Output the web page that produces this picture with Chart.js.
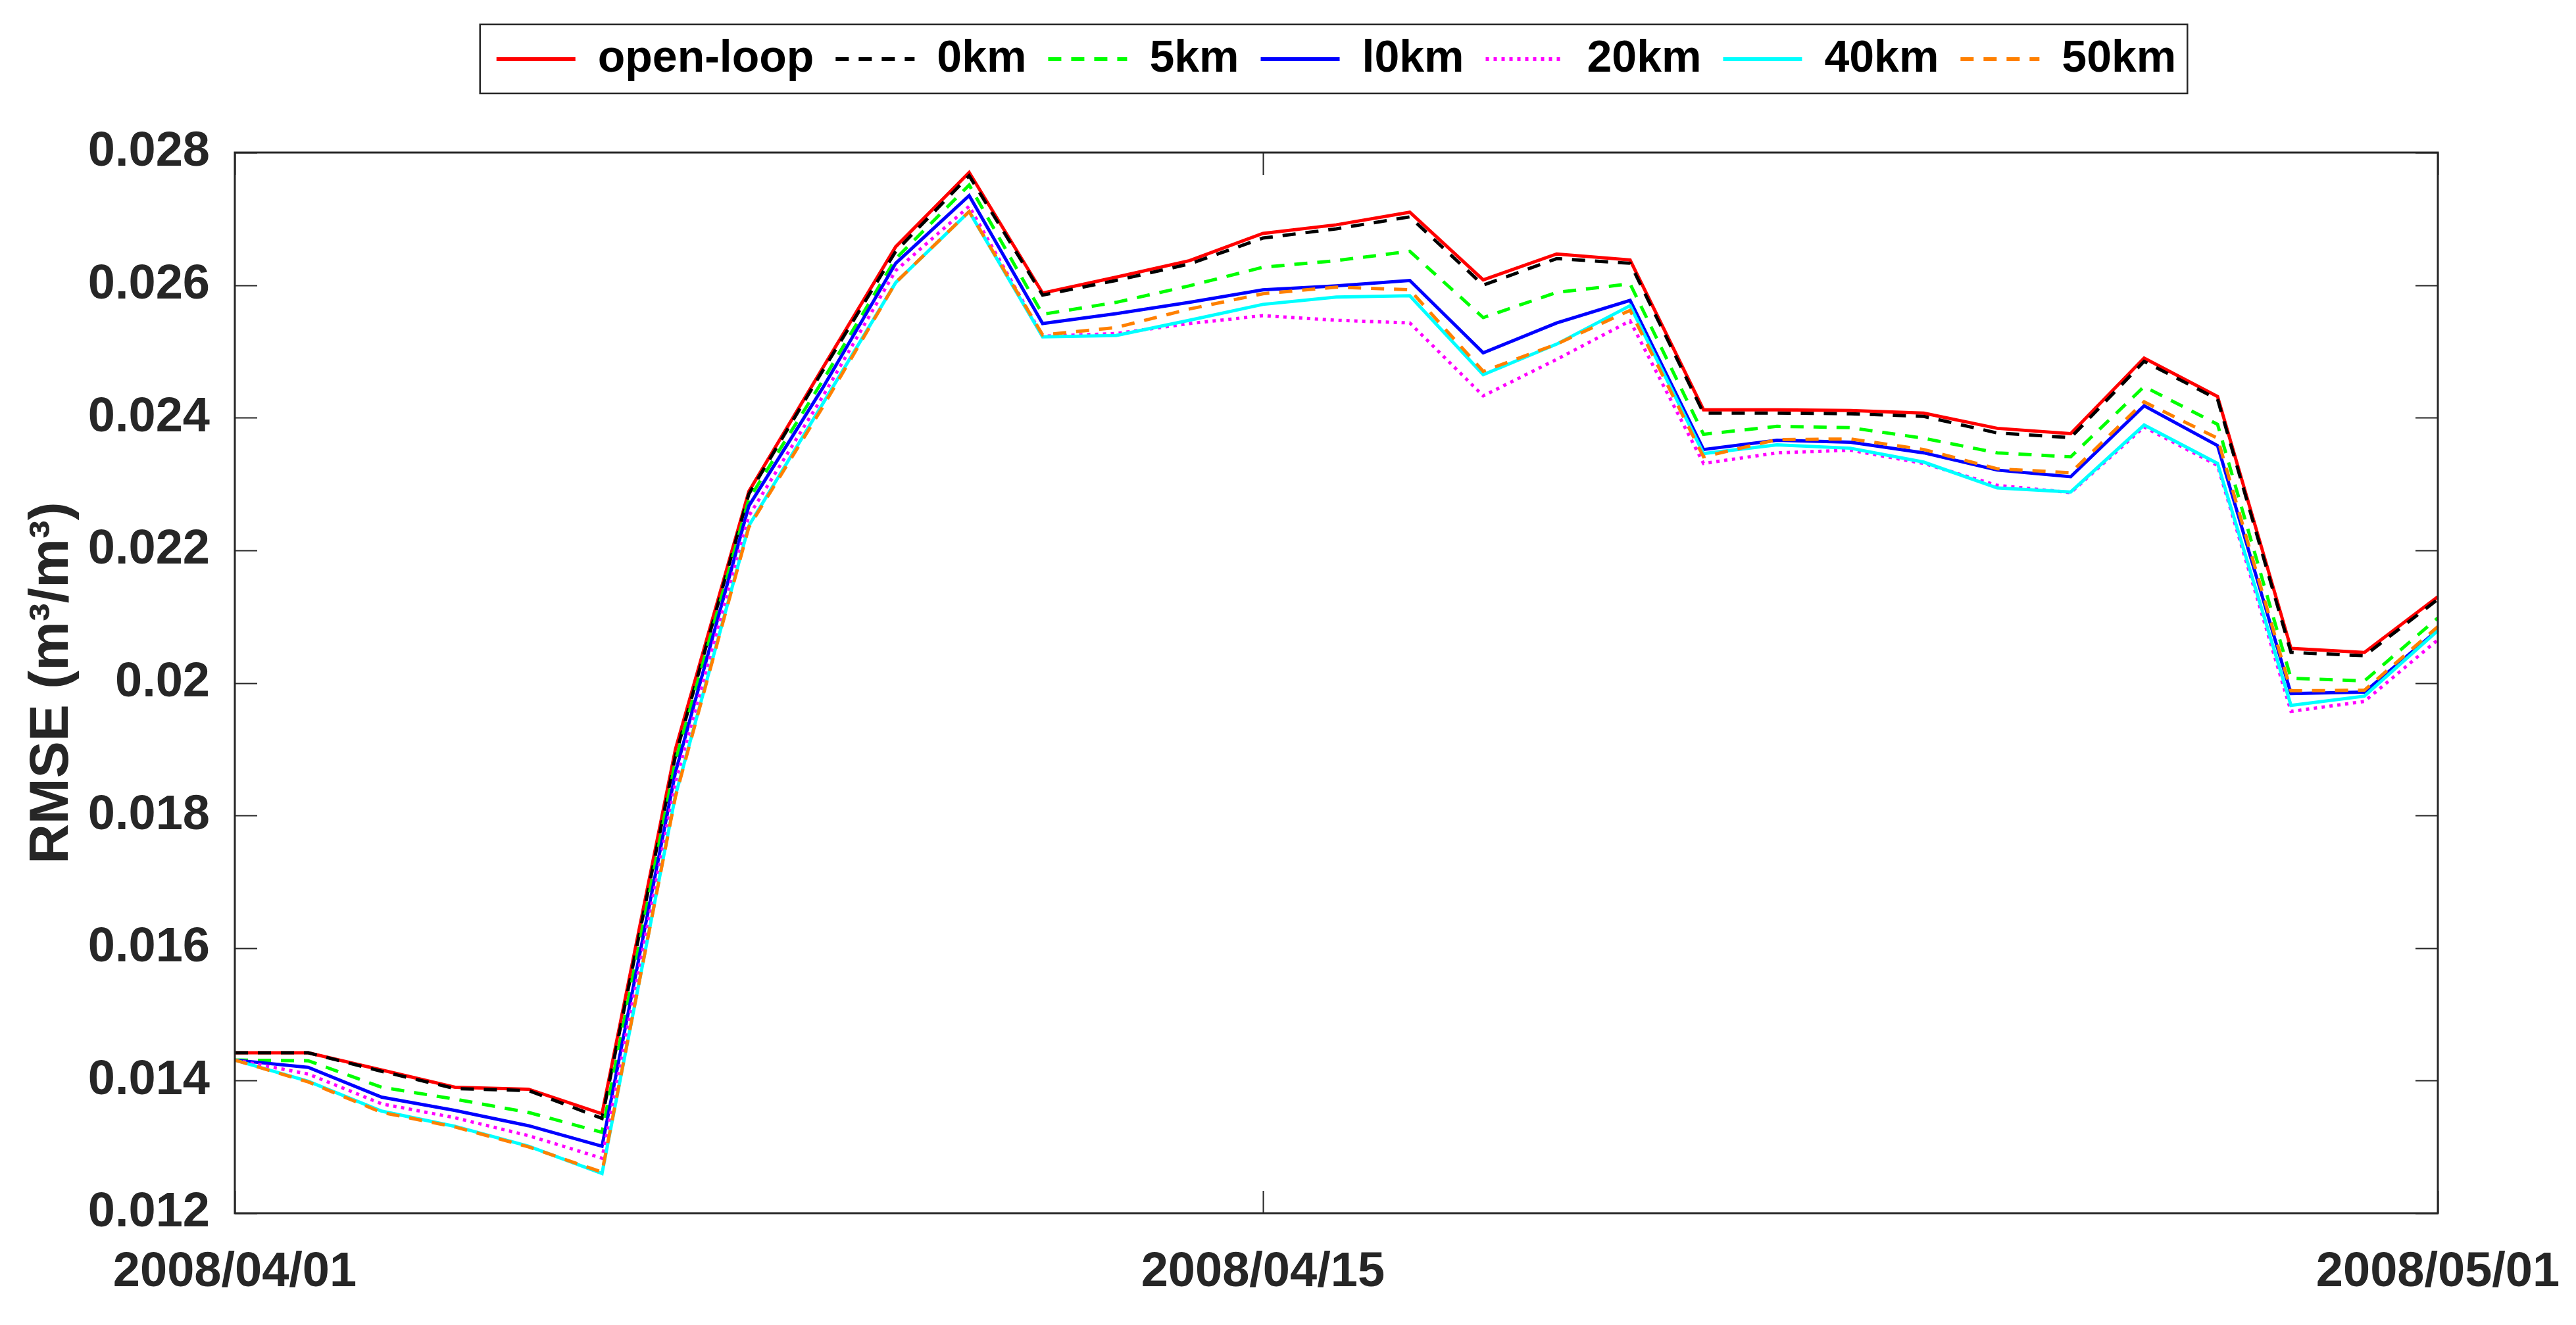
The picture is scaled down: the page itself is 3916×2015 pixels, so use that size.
<!DOCTYPE html>
<html>
<head>
<meta charset="utf-8">
<title>RMSE open-loop vs radius</title>
<script src="https://cdn.jsdelivr.net/npm/chart.js@4.4.0/dist/chart.umd.min.js"></script>
<style>
  html, body { margin: 0; padding: 0; background: #fff; }
  #wrap { width: 3916px; height: 2015px; }
</style>
</head>
<body>
<div id="wrap"><canvas id="rmseChart" width="3916" height="2015"></canvas></div>
<script>
// one value per day, 2008/04/01 .. 2008/05/01
const days = [
  '2008/04/01', '2008/04/02', '2008/04/03', '2008/04/04', '2008/04/05', '2008/04/06',
  '2008/04/07', '2008/04/08', '2008/04/09', '2008/04/10', '2008/04/11', '2008/04/12',
  '2008/04/13', '2008/04/14', '2008/04/15', '2008/04/16', '2008/04/17', '2008/04/18',
  '2008/04/19', '2008/04/20', '2008/04/21', '2008/04/22', '2008/04/23', '2008/04/24',
  '2008/04/25', '2008/04/26', '2008/04/27', '2008/04/28', '2008/04/29', '2008/04/30',
  '2008/05/01'
];
const xTickLabels = ['2008/04/01', '2008/04/15', '2008/05/01'];
const yTicks = [0.012, 0.014, 0.016, 0.018, 0.02, 0.022, 0.024, 0.026, 0.028];

// RMSE (m3/m3) per run
const openLoop = [0.01442, 0.01442, 0.01416, 0.0139, 0.01387, 0.0135, 0.0190, 0.02289, 0.02474, 0.02658,
  0.0277, 0.02588, 0.02612, 0.02637, 0.02678, 0.02691, 0.0271, 0.02608, 0.02647, 0.02638,
  0.02412, 0.02412, 0.02411, 0.02407, 0.02384, 0.02376, 0.0249, 0.02432, 0.02052, 0.02046, 0.0213];
const km0 = [0.01442, 0.01442, 0.01414, 0.01388, 0.01385, 0.01343, 0.0189, 0.02285, 0.0247, 0.02651,
  0.02765, 0.02585, 0.02607, 0.02632, 0.02671, 0.02685, 0.02703, 0.026, 0.0264, 0.02633,
  0.02407, 0.02407, 0.02406, 0.02402, 0.02377, 0.0237, 0.02485, 0.02428, 0.02046, 0.02041, 0.02126];
const km5 = [0.01431, 0.0143, 0.0139, 0.01372, 0.01352, 0.01322, 0.01882, 0.02277, 0.02455, 0.0264,
  0.02751, 0.02556, 0.02574, 0.02599, 0.02627, 0.02637, 0.02651, 0.02551, 0.02589, 0.02602,
  0.02375, 0.02387, 0.02385, 0.02369, 0.02347, 0.02341, 0.02447, 0.0239, 0.02007, 0.02003, 0.02098];
const km10 = [0.01431, 0.0142, 0.01375, 0.01355, 0.01332, 0.01301, 0.01865, 0.02267, 0.02444, 0.02633,
  0.02735, 0.02542, 0.02557, 0.02574, 0.02593, 0.02599, 0.02607, 0.02498, 0.02543, 0.02577,
  0.02352, 0.02366, 0.02363, 0.02347, 0.02321, 0.02311, 0.02418, 0.02358, 0.01984, 0.01986, 0.0208];
const km20 = [0.01431, 0.0141, 0.01365, 0.01344, 0.01317, 0.01283, 0.0185, 0.02252, 0.02431, 0.02622,
  0.02719, 0.02523, 0.02527, 0.02542, 0.02554, 0.02547, 0.02543, 0.02433, 0.02488, 0.02546,
  0.02331, 0.02347, 0.02351, 0.02331, 0.02298, 0.02287, 0.02386, 0.02328, 0.01957, 0.01972, 0.02065];
const km40 = [0.01431, 0.01399, 0.01354, 0.01331, 0.01301, 0.0126, 0.0183, 0.02237, 0.0242, 0.02604,
  0.02711, 0.02522, 0.02524, 0.02547, 0.02571, 0.02582, 0.02584, 0.02465, 0.02511, 0.02569,
  0.02346, 0.02359, 0.02354, 0.02333, 0.02294, 0.02288, 0.02389, 0.02331, 0.01966, 0.0198, 0.02079];
const km50 = [0.01431, 0.01398, 0.01352, 0.0133, 0.013, 0.01262, 0.01828, 0.02235, 0.02415, 0.02604,
  0.02711, 0.02525, 0.02536, 0.02564, 0.02587, 0.02597, 0.02593, 0.0247, 0.02511, 0.02562,
  0.02341, 0.02367, 0.02368, 0.02352, 0.02323, 0.02317, 0.02424, 0.02369, 0.01988, 0.01989, 0.02085];

const seriesNames = ['open-loop', '0km', '5km', 'l0km', '20km', '40km', '50km'];
const seriesData = [openLoop, km0, km5, km10, km20, km40, km50];
const seriesColors = ['#ff0000', '#000000', '#00ff00', '#0000ff', '#ff00ff', '#00ffff', '#ff8000'];
const seriesDash = [[], [20, 15], [20, 15], [], [5, 7], [], [20, 15]];

const FONT = 'Liberation Sans, Arial, Helvetica, sans-serif';
const AXIS_COLOR = '#262626';

// later series sit on top, like the original plot order
const datasets = seriesNames.map((name, i) => ({
  label: name,
  data: seriesData[i],
  borderColor: seriesColors[i],
  backgroundColor: seriesColors[i],
  borderWidth: 5,
  borderDash: seriesDash[i],
  pointRadius: 0,
  tension: 0,
  fill: false,
  order: seriesNames.length - i
}));

// legend height pushes the plot area down to where it is in the figure
const legendHeight = {
  id: 'legendHeight',
  beforeInit(chart) {
    const fit = chart.legend.fit;
    chart.legend.fit = function () {
      fit.call(this);
      this.height = 209;
    };
  }
};

// box around the axes, inward ticks, and the legend frame
const frame = {
  id: 'frame',
  afterDraw(chart) {
    const { ctx, chartArea: a, scales } = chart;
    ctx.save();
    ctx.strokeStyle = AXIS_COLOR;
    ctx.lineWidth = 2;
    ctx.beginPath();
    yTicks.forEach(v => {
      const py = Math.round(scales.y.getPixelForValue(v)) + 0.5;
      ctx.moveTo(a.left, py); ctx.lineTo(a.left + 34, py);
      ctx.moveTo(a.right, py); ctx.lineTo(a.right - 34, py);
    });
    xTickLabels.forEach(l => {
      const px = Math.round(scales.x.getPixelForValue(days.indexOf(l))) + 0.5;
      ctx.moveTo(px, a.bottom); ctx.lineTo(px, a.bottom - 34);
      ctx.moveTo(px, a.top); ctx.lineTo(px, a.top + 34);
    });
    ctx.stroke();
    ctx.lineWidth = 3;
    ctx.strokeRect(a.left, a.top, a.right - a.left, a.bottom - a.top);

    const boxes = chart.legend.legendHitBoxes;
    if (boxes && boxes.length) {
      const left = Math.min(...boxes.map(b => b.left)) - 25;
      const right = Math.max(...boxes.map(b => b.left + b.width)) + 17;
      const cy = boxes[0].top + boxes[0].height / 2;
      ctx.lineWidth = 2.5;
      ctx.strokeRect(left, cy - 53, right - left, 105);
    }
    ctx.restore();
  }
};

const ctx = document.getElementById('rmseChart').getContext('2d');
const chart = new Chart(ctx, {
  type: 'line',
  data: { labels: days, datasets: datasets },
  options: {
    responsive: false,
    animation: false,
    devicePixelRatio: 1,
    layout: { padding: { top: 23, right: 210, bottom: 0, left: 0 } },
    plugins: {
      tooltip: { enabled: false },
      legend: {
        position: 'top',
        fullSize: false,
        labels: {
          usePointStyle: true,
          pointStyle: 'line',
          pointStyleWidth: 120,
          padding: 33,
          color: '#000',
          font: { family: FONT, size: 68, weight: 'bold' },
          generateLabels: (c) => c.data.datasets.map((ds, i) => ({
            text: ds.label,
            fillStyle: ds.borderColor,
            strokeStyle: ds.borderColor,
            lineWidth: ds.borderWidth + 1,
            lineDash: ds.borderDash,
            pointStyle: 'line',
            fontColor: '#000',
            hidden: false,
            datasetIndex: i
          }))
        }
      }
    },
    scales: {
      x: {
        type: 'category',
        grid: { display: false },
        border: { display: false },
        ticks: {
          autoSkip: false,
          maxRotation: 0,
          padding: 38,
          color: AXIS_COLOR,
          font: { family: FONT, size: 74, weight: 'bold' }
        },
        afterBuildTicks: (scale) => {
          scale.ticks = scale.ticks.filter(t => xTickLabels.includes(days[t.value]));
        },
        afterFit: (scale) => {
          scale.height = 170;
          scale.paddingLeft = 0;
          scale.paddingRight = 0;
        }
      },
      y: {
        type: 'linear',
        min: 0.012,
        max: 0.028,
        grid: { display: false },
        border: { display: false },
        ticks: {
          padding: 30,
          color: AXIS_COLOR,
          font: { family: FONT, size: 74, weight: 'bold' },
          callback: (v) => String(+Number(v).toFixed(3))
        },
        afterBuildTicks: (scale) => {
          scale.ticks = yTicks.map(v => ({ value: v }));
        },
        title: {
          display: true,
          text: 'RMSE (m³/m³)',
          color: AXIS_COLOR,
          font: { family: FONT, size: 84, weight: 'bold' },
          padding: { top: 29, bottom: 0 }
        },
        afterFit: (scale) => { scale.width = 357; }
      }
    }
  },
  plugins: [legendHeight, frame]
});
</script>
</body>
</html>
